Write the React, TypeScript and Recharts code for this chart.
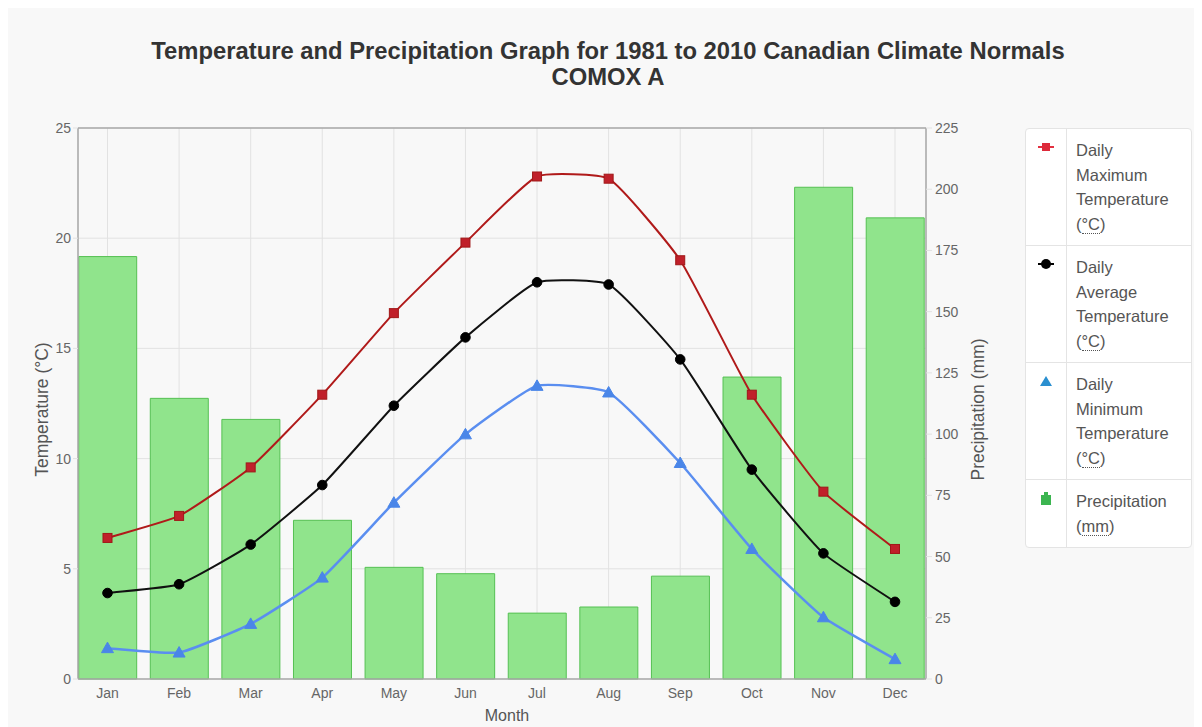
import React from 'react';
import { ComposedChart, Bar, Line, XAxis, YAxis, CartesianGrid, ReferenceLine, Label } from 'recharts';

const months = ['Jan', 'Feb', 'Mar', 'Apr', 'May', 'Jun', 'Jul', 'Aug', 'Sep', 'Oct', 'Nov', 'Dec'];
const maxTemp = [6.4, 7.4, 9.6, 12.9, 16.6, 19.8, 22.8, 22.7, 19.0, 12.9, 8.5, 5.9];
const avgTemp = [3.9, 4.3, 6.1, 8.8, 12.4, 15.5, 18.0, 17.9, 14.5, 9.5, 5.7, 3.5];
const minTemp = [1.4, 1.2, 2.5, 4.6, 8.0, 11.1, 13.3, 13.0, 9.8, 5.9, 2.8, 0.9];
const precip = [172.5, 114.6, 106.0, 64.8, 45.6, 43.0, 26.9, 29.4, 42.0, 123.3, 200.8, 188.3];
const tempTicks = [0, 5, 10, 15, 20, 25];
const precipTicks = [0, 25, 50, 75, 100, 125, 150, 175, 200, 225];
const monthIdx = months.map((_, i) => i);

const data = months.map((m, i) => ({
  idx: i,
  month: m,
  max: maxTemp[i],
  avg: avgTemp[i],
  min: minTemp[i],
  precip: precip[i],
}));

const FONT = '"Liberation Sans", Arial, Helvetica, sans-serif';
const BG = '#f8f8f8';
const AXIS = '#a8a8a8';
const GRID = '#e2e2e2';

// Chart.js-like spline with small tension
const splineCurve = (tension: number) => (context: any) => {
  let pts: [number, number][] = [];
  return {
    areaStart() {},
    areaEnd() {},
    lineStart() {
      pts = [];
    },
    point(x: number, y: number) {
      pts.push([+x, +y]);
    },
    lineEnd() {
      const n = pts.length;
      if (!n) return;
      const cps = pts.map((cur, i) => {
        const prev = pts[Math.max(0, i - 1)];
        const next = pts[Math.min(n - 1, i + 1)];
        const d01 = Math.hypot(cur[0] - prev[0], cur[1] - prev[1]);
        const d12 = Math.hypot(next[0] - cur[0], next[1] - cur[1]);
        const sum = d01 + d12 || 1;
        const fa = (tension * d01) / sum;
        const fb = (tension * d12) / sum;
        return {
          prev: [cur[0] - fa * (next[0] - prev[0]), cur[1] - fa * (next[1] - prev[1])],
          next: [cur[0] + fb * (next[0] - prev[0]), cur[1] + fb * (next[1] - prev[1])],
        };
      });
      context.moveTo(pts[0][0], pts[0][1]);
      for (let i = 1; i < n; i++) {
        const a = cps[i - 1].next;
        const b = cps[i].prev;
        context.bezierCurveTo(a[0], a[1], b[0], b[1], pts[i][0], pts[i][1]);
      }
    },
  };
};
const curve = splineCurve(0.15);

const SquareDot = (props: any) => {
  const { cx, cy, index } = props;
  if (cx == null || cy == null) return <g key={index} />;
  return <rect key={index} x={cx - 4.5} y={cy - 4.5} width={9} height={9} fill="#c0202a" stroke="#a01818" strokeWidth={1} />;
};
const CircleDot = (props: any) => {
  const { cx, cy, index } = props;
  if (cx == null || cy == null) return <g key={index} />;
  return <circle key={index} cx={cx} cy={cy} r={4.8} fill="#000" stroke="#000" strokeWidth={1} />;
};
const TriDot = (props: any) => {
  const { cx, cy, index } = props;
  if (cx == null || cy == null) return <g key={index} />;
  return <polygon key={index} points={`${cx},${cy - 6} ${cx + 6},${cy + 4.5} ${cx - 6},${cy + 4.5}`} fill="#4a86e8" stroke="#4a86e8" strokeWidth={1} />;
};

const leftTitle = (props: any) => {
  const vb = props.viewBox || {};
  const cx = vb.x + 14;
  const cy = vb.y + vb.height / 2 + 6;
  return (
    <text x={cx} y={cy} transform={`rotate(-90 ${cx} ${cy})`} textAnchor="middle" dominantBaseline="central" fill="#555" fontSize={17.5} fontFamily={FONT}>
      Temperature (°C)
    </text>
  );
};
const rightTitle = (props: any) => {
  const vb = props.viewBox || {};
  const cx = vb.x + 52;
  const cy = vb.y + vb.height / 2 + 6;
  return (
    <text x={cx} y={cy} transform={`rotate(-90 ${cx} ${cy})`} textAnchor="middle" dominantBaseline="central" fill="#555" fontSize={17.5} fontFamily={FONT}>
      Precipitation (mm)
    </text>
  );
};
const bottomTitle = (props: any) => {
  const vb = props.viewBox || {};
  const cx = vb.x + vb.width / 2 + 5;
  const cy = vb.y + 36;
  return (
    <text x={cx} y={cy} textAnchor="middle" dominantBaseline="central" fill="#555" fontSize={16} fontFamily={FONT}>
      Month
    </text>
  );
};

const abbr: React.CSSProperties = { borderBottom: '1px dotted #555', textDecoration: 'none' };

const legendRows = [
  { key: 'max', lines: ['Daily', 'Maximum', 'Temperature'], unit: '°C', icon: 'square' },
  { key: 'avg', lines: ['Daily', 'Average', 'Temperature'], unit: '°C', icon: 'circle' },
  { key: 'min', lines: ['Daily', 'Minimum', 'Temperature'], unit: '°C', icon: 'tri' },
  { key: 'precip', lines: ['Precipitation'], unit: 'mm', icon: 'bar' },
];

const LegendIcon = ({ kind }: { kind: string }) => {
  if (kind === 'square')
    return (
      <svg width={20} height={14}>
        <line x1={2} y1={7} x2={18} y2={7} stroke="#e33040" strokeWidth={2} />
        <rect x={6} y={3} width={8} height={8} fill="#dd2a3a" />
      </svg>
    );
  if (kind === 'circle')
    return (
      <svg width={20} height={14}>
        <line x1={2} y1={7} x2={18} y2={7} stroke="#000" strokeWidth={2} />
        <circle cx={10} cy={7} r={5} fill="#000" />
      </svg>
    );
  if (kind === 'tri')
    return (
      <svg width={20} height={14}>
        <polygon points="10,2 16,12 4,12" fill="#2a8fd0" />
      </svg>
    );
  return (
    <svg width={20} height={14}>
      <rect x={5} y={4} width={10} height={10} fill="#3cb550" />
      <rect x={8} y={1} width={4} height={4} fill="#3cb550" />
    </svg>
  );
};

const LegendBox = () => (
  <div
    style={{
      position: 'absolute',
      left: 1017,
      top: 120,
      width: 167,
      background: '#fff',
      border: '1px solid #e4e4e4',
      borderRadius: 4,
      fontFamily: FONT,
      fontSize: 16.5,
      color: '#555',
      boxSizing: 'border-box',
      textAlign: 'left',
    }}
  >
    {legendRows.map((r, i) => (
      <div key={r.key} style={{ display: 'flex', borderTop: i === 0 ? 'none' : '1px solid #e4e4e4' }}>
        <div style={{ width: 40, borderRight: '1px solid #e4e4e4', display: 'flex', justifyContent: 'center', paddingTop: 11 }}>
          <LegendIcon kind={r.icon} />
        </div>
        <div style={{ padding: '9px 0 9px 9px', lineHeight: '24.5px' }}>
          {r.lines.map((l) => (
            <div key={l}>{l}</div>
          ))}
          <div>
            (<span style={abbr}>{r.unit}</span>)
          </div>
        </div>
      </div>
    ))}
  </div>
);

export default function App() {
  return (
    <div style={{ position: 'relative', width: 1186, height: 719, background: BG, fontFamily: FONT }}>
      <div
        style={{
          position: 'absolute',
          left: 0,
          top: 30,
          width: 1200,
          textAlign: 'center',
          fontSize: 23.8,
          fontWeight: 'bold',
          color: '#333',
          lineHeight: '26px',
        }}
      >
        <div>Temperature and Precipitation Graph for 1981 to 2010 Canadian Climate Normals</div>
        <div>COMOX A</div>
      </div>
      <div style={{ position: 'absolute', left: 0, top: 0 }}>
        <ComposedChart width={1186} height={719} data={data} margin={{ top: 120, right: 208, bottom: 8, left: 20 }}>
          <CartesianGrid yAxisId="temp" stroke={GRID} strokeWidth={1} />
          <XAxis
            dataKey="idx"
            type="number"
            domain={[-0.412, 11.433]}
            ticks={monthIdx}
            tickFormatter={(v: number) => months[v]}
            interval={0}
            height={40}
            axisLine={{ stroke: AXIS, strokeWidth: 1.5 }}
            tickLine={false}
            tickSize={6}
            tickMargin={3}
            tick={{ fill: '#666', fontSize: 14, fontFamily: FONT }}
            allowDataOverflow
          >
            <Label content={bottomTitle} />
          </XAxis>
          <YAxis
            yAxisId="temp"
            orientation="left"
            domain={[0, 25]}
            ticks={tempTicks}
            interval={0}
            width={50}
            axisLine={{ stroke: AXIS, strokeWidth: 1.5 }}
            tickLine={{ stroke: GRID }}
            tickSize={5}
            tickMargin={2}
            tick={{ fill: '#666', fontSize: 14, fontFamily: FONT }}
          >
            <Label content={leftTitle} />
          </YAxis>
          <YAxis
            yAxisId="precip"
            orientation="right"
            domain={[0, 225]}
            ticks={precipTicks}
            interval={0}
            width={60}
            axisLine={{ stroke: AXIS, strokeWidth: 1.5 }}
            tickLine={{ stroke: GRID }}
            tickSize={6}
            tickMargin={3}
            tick={{ fill: '#666', fontSize: 14, fontFamily: FONT }}
          >
            <Label content={rightTitle} />
          </YAxis>
          <ReferenceLine yAxisId="temp" y={25} stroke={AXIS} strokeWidth={1.5} />
          <Bar yAxisId="precip" dataKey="precip" barSize={58} fill="#90e48c" stroke="#55c053" strokeWidth={1} isAnimationActive={false} />
          <Line yAxisId="temp" type={curve as any} dataKey="min" stroke="#5a8ef0" strokeWidth={2.5} dot={TriDot} activeDot={false} isAnimationActive={false} />
          <Line yAxisId="temp" type={curve as any} dataKey="avg" stroke="#111" strokeWidth={2} dot={CircleDot} activeDot={false} isAnimationActive={false} />
          <Line yAxisId="temp" type={curve as any} dataKey="max" stroke="#b01a1a" strokeWidth={2} dot={SquareDot} activeDot={false} isAnimationActive={false} />
        </ComposedChart>
      </div>
      <LegendBox />
    </div>
  );
}
